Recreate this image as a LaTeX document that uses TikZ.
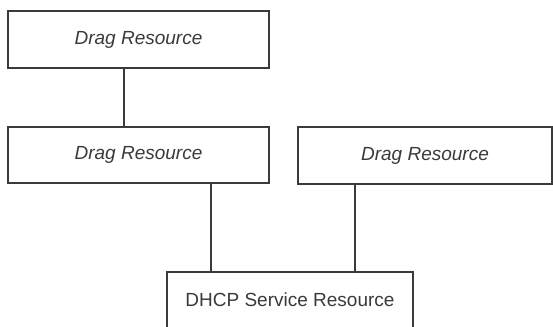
\documentclass[tikz,border=0pt]{standalone}
\usepackage{fontspec}
\setmainfont{Liberation Sans}
\definecolor{linegray}{HTML}{3A3A3A}
\tikzset{
  resbox/.style={draw=linegray, line width=1.3pt, inner sep=0pt, text=linegray,
    font=\fontsize{19}{22}\selectfont},
  dragbox/.style={resbox, font=\fontsize{19}{22}\selectfont\itshape}
}
\begin{document}
\begin{tikzpicture}[x=1pt,y=-1pt]
    \useasboundingbox (0,0) rectangle (553,326);
        \node[dragbox, minimum width=261pt, minimum height=57pt] (top) at (138.5,39.5) {Drag Resource};
        \node[dragbox, minimum width=261pt, minimum height=56pt] (midl) at (138.5,155) {Drag Resource};
        \node[dragbox, minimum width=254pt, minimum height=57pt] (midr) at (425,155.5) {Drag Resource};
        \node[resbox, minimum width=246pt, minimum height=56pt] (dhcp) at (290,300) {DHCP Service Resource};
        \draw[linegray, line width=1.3pt] ([xshift=-14.5pt]top.south) -- ([xshift=-14.5pt]midl.north);
        \draw[linegray, line width=1.3pt] ([xshift=72.5pt]midl.south) -- ([xshift=-79pt]dhcp.north);
        \draw[linegray, line width=1.3pt] ([xshift=-70pt]midr.south) -- ([xshift=65pt]dhcp.north);
    \end{tikzpicture}
\end{document}
